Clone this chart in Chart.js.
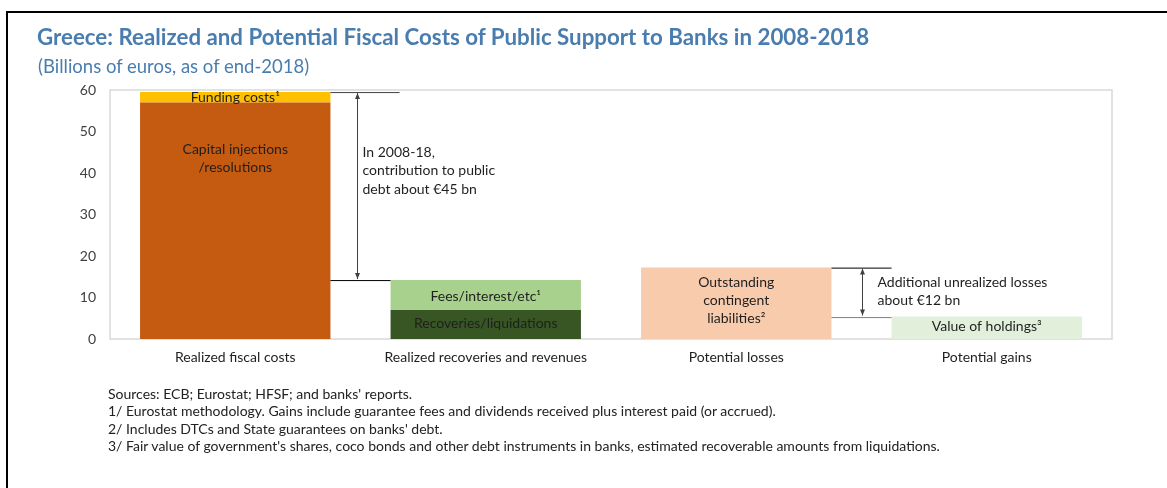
<!DOCTYPE html>
<html>
<head>
<meta charset="utf-8">
<script src="https://cdn.jsdelivr.net/npm/chart.js@4/dist/chart.umd.min.js"></script>
<style>
  html, body { margin: 0; padding: 0; background: #fff; }
  body { width: 1167px; height: 488px; position: relative; overflow: hidden; font-family: Lato, sans-serif; }
  .frame { position: absolute; left: 6px; top: 11px; width: 1200px; height: 600px; border-left: 2px solid #000; border-top: 2px solid #000; }
  #wrap { position: absolute; left: 0; top: 0; width: 1167px; height: 488px; }
  .title { position: absolute; left: 37px; top: 23px; font-size: 22.3px; font-weight: bold; color: #4a7daf; white-space: nowrap; }
  .subtitle { position: absolute; left: 38px; top: 55px; font-size: 18.5px; color: #4a7daf; white-space: nowrap; }
  .notes { position: absolute; left: 108px; top: 385px; font-size: 14px; line-height: 17.3px; color: #222; white-space: nowrap; }
</style>
</head>
<body>
<div class="frame"></div>
<div id="wrap"><canvas id="chart"></canvas></div>
<div class="title">Greece: Realized and Potential Fiscal Costs of Public Support to Banks in 2008-2018</div>
<div class="subtitle">(Billions of euros, as of end-2018)</div>
<div class="notes">
  Sources: ECB; Eurostat; HFSF; and banks' reports.<br>
  1/ Eurostat methodology. Gains include guarantee fees and dividends received plus interest paid (or accrued).<br>
  2/ Includes DTCs and State guarantees on banks' debt.<br>
  3/ Fair value of government's shares, coco bonds and other debt instruments in banks, estimated recoverable amounts from liquidations.
</div>
<script>
const categories = ["Realized fiscal costs", "Realized recoveries and revenues", "Potential losses", "Potential gains"];
const capitalInjections = [57.0, null, null, null];
const fundingCosts = [2.5, null, null, null];
const recoveries = [null, 7.0, null, null];
const feesInterest = [null, 7.2, null, null];
const contingentLiabilities = [null, null, 17.2, null];
const holdingsValue = [null, null, null, 5.4];
const yTicks = [0, 10, 20, 30, 40, 50, 60];

const textFont = "14px Lato, sans-serif";

// in-bar labels: dataset index, lines, offset of first line from segment top (px)
const barLabels = [
  { ds: 0, idx: 0, lines: ["Capital injections", "/resolutions"], offset: 47 },
  { ds: 1, idx: 0, lines: ["Funding costs\u00b9"], offset: 5 },
  { ds: 2, idx: 1, lines: ["Recoveries/liquidations"], offset: 14 },
  { ds: 3, idx: 1, lines: ["Fees/interest/etc\u00b9"], offset: 16 },
  { ds: 4, idx: 2, lines: ["Outstanding", "contingent", "liabilities\u00b2"], offset: 15 },
  { ds: 5, idx: 3, lines: ["Value of holdings\u00b3"], offset: 10 },
];

function drawArrow(ctx, x, y1, y2) {
  ctx.beginPath();
  ctx.moveTo(x, y1 + 1);
  ctx.lineTo(x, y2 - 1);
  ctx.stroke();
  ctx.beginPath();
  ctx.moveTo(x, y1 + 1); ctx.lineTo(x - 2.5, y1 + 7); ctx.lineTo(x + 2.5, y1 + 7); ctx.closePath();
  ctx.moveTo(x, y2 - 1); ctx.lineTo(x - 2.5, y2 - 7); ctx.lineTo(x + 2.5, y2 - 7); ctx.closePath();
  ctx.fill();
}

const overlayPlugin = {
  id: "overlay",
  beforeDatasetsDraw(chart) {
    const { ctx, chartArea } = chart;
    ctx.save();
    ctx.strokeStyle = "#d9d9d9";
    ctx.lineWidth = 1.5;
    ctx.strokeRect(chartArea.left, chartArea.top, chartArea.right - chartArea.left, chartArea.bottom - chartArea.top);
    ctx.restore();
  },
  afterDatasetsDraw(chart) {
    const { ctx } = chart;
    const y = chart.scales.y;
    const bar = (ds, i) => chart.getDatasetMeta(ds).data[i];
    ctx.save();
    ctx.font = textFont;
    ctx.fillStyle = "#1f1f1f";
    ctx.textAlign = "center";
    ctx.textBaseline = "middle";
    barLabels.forEach(l => {
      const el = bar(l.ds, l.idx);
      l.lines.forEach((t, k) => ctx.fillText(t, el.x, el.y + l.offset + k * 18));
    });

    // bracket lines between bars
    const b1 = bar(1, 0), b2 = bar(3, 1), b3 = bar(4, 2), b4 = bar(5, 3);
    const half = b1.width / 2;
    const top1 = y.getPixelForValue(capitalInjections[0] + fundingCosts[0]);
    const top2 = y.getPixelForValue(recoveries[1] + feesInterest[1]);
    const top3 = y.getPixelForValue(contingentLiabilities[2]);
    const top4 = y.getPixelForValue(holdingsValue[3]);
    ctx.lineWidth = 1;
    ctx.strokeStyle = "#404040";
    ctx.beginPath(); ctx.moveTo(b1.x + half, top1 + 0.5); ctx.lineTo(b2.x - half + 9, top1 + 0.5); ctx.stroke();
    ctx.strokeStyle = "#000";
    ctx.beginPath(); ctx.moveTo(b1.x + half, top2 + 0.5); ctx.lineTo(b2.x - half, top2 + 0.5); ctx.stroke();
    ctx.beginPath(); ctx.moveTo(b3.x + half, top3 + 0.5); ctx.lineTo(b4.x - half, top3 + 0.5); ctx.stroke();
    ctx.strokeStyle = "#7f7f7f";
    ctx.beginPath(); ctx.moveTo(b3.x + half, top4 + 1); ctx.lineTo(b4.x - half, top4 + 1); ctx.stroke();

    ctx.strokeStyle = "#404040";
    ctx.fillStyle = "#404040";
    const ax1 = Math.round(b1.x + half + 27) + 0.5;
    const ax2 = Math.round((b3.x + half + b4.x - half) / 2) + 0.5;
    drawArrow(ctx, ax1, top1, top2);
    drawArrow(ctx, ax2, top3, top4);

    ctx.fillStyle = "#1f1f1f";
    ctx.textAlign = "left";
    ["In 2008-18,", "contribution to public", "debt about \u20ac45 bn"].forEach((t, k) => ctx.fillText(t, ax1 + 5, 152 + k * 18.5));
    ["Additional unrealized losses", "about \u20ac12 bn"].forEach((t, k) => ctx.fillText(t, ax2 + 15, top3 + 15 + k * 18));
    ctx.restore();
  }
};

const ds = (label, data, color) => ({
  label, data, backgroundColor: color, borderWidth: 0,
  categoryPercentage: 1, barPercentage: 0.76,
});

new Chart(document.getElementById("chart"), {
  type: "bar",
  data: {
    labels: categories,
    datasets: [
      ds("Capital injections/resolutions", capitalInjections, "#c55a11"),
      ds("Funding costs", fundingCosts, "#ffc000"),
      ds("Recoveries/liquidations", recoveries, "#375623"),
      ds("Fees/interest/etc", feesInterest, "#a9d18e"),
      ds("Outstanding contingent liabilities", contingentLiabilities, "#f8cbad"),
      ds("Value of holdings", holdingsValue, "#e2efda"),
    ],
  },
  options: {
    responsive: true,
    maintainAspectRatio: false,
    animation: false,
    layout: { padding: { left: 60, right: 55, top: 90, bottom: 119 } },
    plugins: {
      legend: { display: false },
      tooltip: { enabled: false },
    },
    scales: {
      x: {
        stacked: true,
        grid: { display: false, drawTicks: false },
        border: { display: false },
        ticks: { color: "#1f1f1f", font: { family: "Lato", size: 14 }, padding: 10, maxRotation: 0 },
        afterFit: s => { s.height = 30; },
      },
      y: {
        stacked: true,
        min: 0,
        max: 60,
        afterBuildTicks: s => { s.ticks = yTicks.map(v => ({ value: v })); },
        grid: { display: false, drawTicks: false },
        border: { display: false },
        ticks: { color: "#404040", font: { family: "Lato", size: 14 }, padding: 14 },
        afterFit: s => { s.width = 50; },
      },
    },
  },
  plugins: [overlayPlugin],
});
</script>
</body>
</html>
